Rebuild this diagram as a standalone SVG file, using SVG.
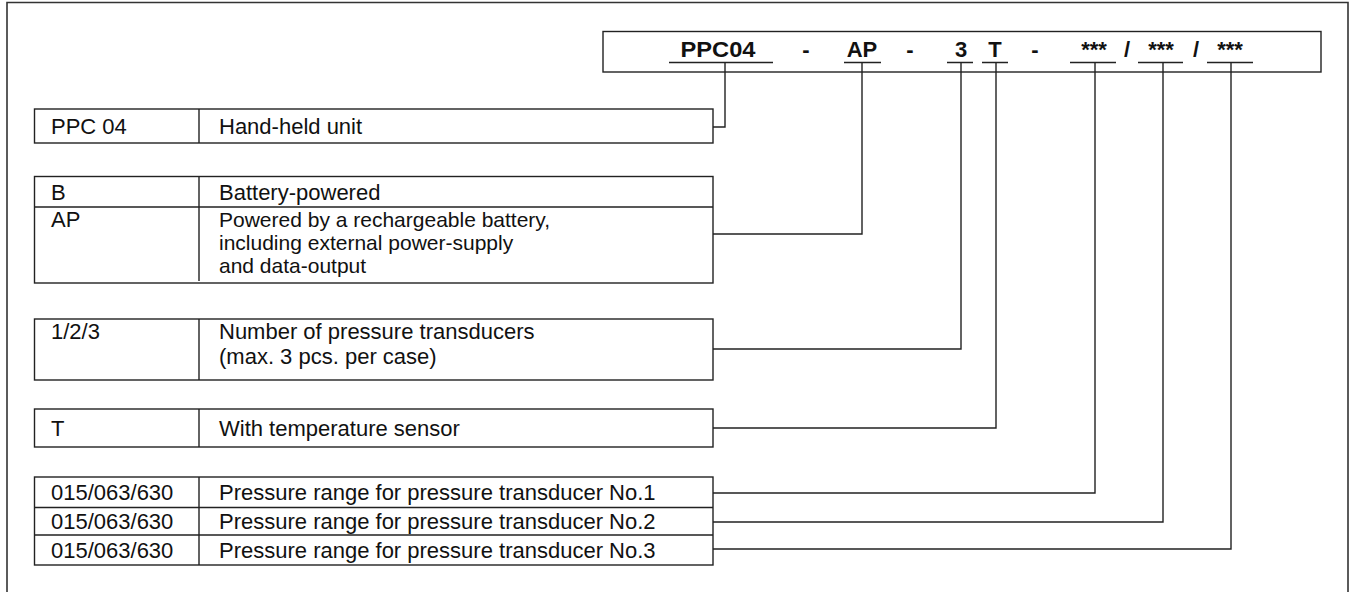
<svg xmlns="http://www.w3.org/2000/svg" width="1349" height="592" viewBox="0 0 1349 592">
<style>
.ln{fill:none;stroke:#222;stroke-width:1.4}
.fr{fill:none;stroke:#333;stroke-width:1.6}
.bx{fill:#fff;stroke:#222;stroke-width:1.4}
.t{font-family:"Liberation Sans",Arial,sans-serif;font-size:22px;fill:#111}
.s{font-size:21px}
.c{font-family:"Liberation Sans",Arial,sans-serif;font-size:22px;font-weight:bold;fill:#111;text-anchor:middle}
</style>
<rect width="1349" height="592" fill="#fff"/>
<path class="fr" d="M7,600 V2.5 H1348 V600"/>

<g id="code">
<rect class="bx" x="603" y="31.5" width="718" height="40.5"/>
<text class="c" x="718" y="57" textLength="75" lengthAdjust="spacingAndGlyphs">PPC04</text>
<text class="c" x="806" y="57">-</text>
<text class="c" x="862" y="57">AP</text>
<text class="c" x="910" y="57">-</text>
<text class="c" x="961" y="57">3</text>
<text class="c" x="995" y="57">T</text>
<text class="c" x="1035" y="57">-</text>
<text class="c" x="1094" y="57">***</text>
<text class="c" x="1127" y="57">/</text>
<text class="c" x="1161" y="57">***</text>
<text class="c" x="1196" y="57">/</text>
<text class="c" x="1230" y="57">***</text>
<path class="ln" d="M669,62.5 H773 M844,62.5 H881 M947,62.5 H973 M982,62.5 H1008 M1070,62.5 H1116 M1138,62.5 H1183 M1207,62.5 H1253"/>
</g>

<g id="connectors">
<path class="ln" d="M725,62.5 V127 H713"/>
<path class="ln" d="M862,62.5 V234 H713"/>
<path class="ln" d="M961,62.5 V349 H713"/>
<path class="ln" d="M996,62.5 V428 H713"/>
<path class="ln" d="M1095,62.5 V493 H713"/>
<path class="ln" d="M1163,62.5 V522 H713"/>
<path class="ln" d="M1231,62.5 V549 H713"/>
</g>

<g id="node-ppc04">
<rect class="bx" x="34.5" y="109" width="678.5" height="34"/>
<path class="ln" d="M199,109 V143"/>
<text class="t" x="51" y="134">PPC 04</text>
<text class="t" x="219" y="134">Hand-held unit</text>
</g>

<g id="node-power">
<rect class="bx" x="34.5" y="176.5" width="678.5" height="106.5"/>
<path class="ln" d="M34.5,207 H713 M199,176.5 V281"/>
<text class="t" x="51" y="200">B</text>
<text class="t" x="219" y="200">Battery-powered</text>
<text class="t" x="51" y="227">AP</text>
<text class="t s" x="219" y="227">Powered by a rechargeable battery,</text>
<text class="t s" x="219" y="250">including external power-supply</text>
<text class="t s" x="219" y="273">and data-output</text>
</g>

<g id="node-transducers">
<rect class="bx" x="34.5" y="319" width="678.5" height="61"/>
<path class="ln" d="M199,319 V380"/>
<text class="t" x="51" y="339">1/2/3</text>
<text class="t" x="219" y="339">Number of pressure transducers</text>
<text class="t" x="219" y="364">(max. 3 pcs. per case)</text>
</g>

<g id="node-temp">
<rect class="bx" x="34.5" y="409" width="678.5" height="38"/>
<path class="ln" d="M199,409 V447"/>
<text class="t" x="51" y="436">T</text>
<text class="t" x="219" y="436">With temperature sensor</text>
</g>

<g id="node-ranges">
<rect class="bx" x="34.5" y="477" width="678.5" height="88"/>
<path class="ln" d="M34.5,507.5 H713 M34.5,535 H713 M199,477 V565"/>
<text class="t" x="51" y="500">015/063/630</text>
<text class="t" x="219" y="500">Pressure range for pressure transducer No.1</text>
<text class="t" x="51" y="529">015/063/630</text>
<text class="t" x="219" y="529">Pressure range for pressure transducer No.2</text>
<text class="t" x="51" y="558">015/063/630</text>
<text class="t" x="219" y="558">Pressure range for pressure transducer No.3</text>
</g>
</svg>
